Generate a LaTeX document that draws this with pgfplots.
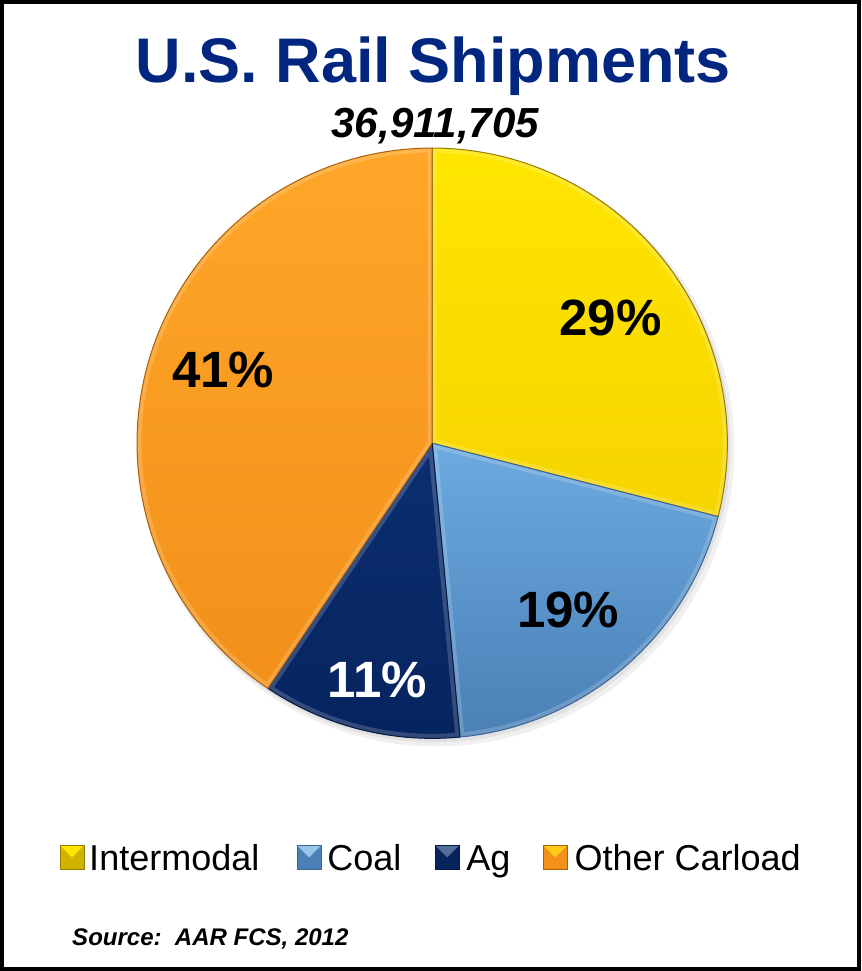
\documentclass[border=0pt]{standalone}
\usepackage{fontspec}
\setmainfont{Liberation Sans}
\usepackage{pgfplots}
\usepackage{pgfplotstable}
\pgfplotsset{compat=1.18}

\definecolor{titleblue}{RGB}{0,38,128}
% slice colours: top / bottom of the shading, edge
\definecolor{yelT}{RGB}{255,230,0}   \definecolor{yelB}{RGB}{246,212,0}   \definecolor{yelE}{RGB}{150,125,0}
\definecolor{coaT}{RGB}{108,170,224} \definecolor{coaB}{RGB}{74,128,182}  \definecolor{coaE}{RGB}{60,100,150}
\definecolor{agT}{RGB}{12,46,112}    \definecolor{agB}{RGB}{6,36,94}      \definecolor{agE}{RGB}{4,24,64}
\definecolor{oraT}{RGB}{255,166,40}  \definecolor{oraB}{RGB}{242,144,26}  \definecolor{oraE}{RGB}{170,95,10}

% share in percent, label, colours, label centre (px, y up)
\pgfplotstableread{
share lab top bot edge txt lx ly
29.0 29 yelT yelB yelE black 610 653
19.5 19 coaT coaB coaE black 568 361
10.9 11 agT  agB  agE  white 377 291
40.6 41 oraT oraB oraE black 223 601
}\pietable

\newcommand{\legsq}[4]{% x, colour top, colour bottom, edge
  \fill[#3] (axis cs:#1,102) rectangle (axis cs:#1+24,126);
  \fill[#2] (axis cs:#1,126) -- (axis cs:#1+24,126) -- (axis cs:#1+12,114) -- cycle;
  \draw[#4, line width=1pt] (axis cs:#1,102) rectangle (axis cs:#1+24,126);
}

\begin{document}
\begin{tikzpicture}
\begin{axis}[
    hide axis,
    scale only axis,
    x=1pt, y=1pt,
    xmin=0, xmax=863, ymin=0, ymax=971,
    clip=false,
  ]
  % soft shadow under the pie
  \fill[black, opacity=0.06] (axis cs:436,523) circle[radius=298pt];
  \fill[black, opacity=0.06] (axis cs:434,525) circle[radius=296pt];
  % pie
  \def\cum{0}
  \pgfplotsforeachungrouped \i in {0,...,3}{%
    \pgfplotstablegetelem{\i}{share}\of\pietable \let\sh\pgfplotsretval
    \pgfplotstablegetelem{\i}{top}\of\pietable \let\tc\pgfplotsretval
    \pgfplotstablegetelem{\i}{bot}\of\pietable \let\bc\pgfplotsretval
    \pgfplotstablegetelem{\i}{edge}\of\pietable \let\ec\pgfplotsretval
    \pgfmathsetmacro\a{90-3.6*\cum}
    \pgfmathsetmacro\b{90-3.6*(\cum+\sh)}
    \pgfmathsetmacro\cum{\cum+\sh}
    \edef\temp{%
      \noexpand\shade[top color=\tc, bottom color=\bc]
        (axis cs:432,528) -- ++(\a:295pt) arc[start angle=\a, end angle=\b, radius=295pt] -- cycle;
      \noexpand\begin{scope}
        \noexpand\clip (axis cs:432,528) -- ++(\a:295pt) arc[start angle=\a, end angle=\b, radius=295pt] -- cycle;
        \noexpand\draw[white, opacity=0.18, line width=9pt, line join=round]
          (axis cs:432,528) -- ++(\a:295pt) arc[start angle=\a, end angle=\b, radius=295pt] -- cycle;
      \noexpand\end{scope}
      \noexpand\draw[\ec, line width=1pt, line join=round]
        (axis cs:432,528) -- ++(\a:295pt) arc[start angle=\a, end angle=\b, radius=295pt] -- cycle;
    }\temp
  }
  % percentage labels
  \pgfplotsforeachungrouped \i in {0,...,3}{%
    \pgfplotstablegetelem{\i}{lab}\of\pietable \let\lb\pgfplotsretval
    \pgfplotstablegetelem{\i}{txt}\of\pietable \let\tx\pgfplotsretval
    \pgfplotstablegetelem{\i}{lx}\of\pietable \let\px\pgfplotsretval
    \pgfplotstablegetelem{\i}{ly}\of\pietable \let\py\pgfplotsretval
    \edef\temp{\noexpand\node[text=\tx, font=\noexpand\fontsize{51}{51}\noexpand\selectfont\noexpand\bfseries]
      at (axis cs:\px,\py) {\lb\noexpand\%};}\temp
  }

  % frame
  \draw[black, line width=4pt] (axis cs:2,2.5) rectangle (axis cs:859,969);

  % title and total
  \node[anchor=base, text=titleblue, font=\fontsize{63}{63}\selectfont\bfseries]
    at (axis cs:433,889) {U.S. Rail Shipments};
  \node[anchor=base, font=\fontsize{42}{42}\selectfont\bfseries\itshape]
    at (axis cs:435,834) {36,911,705};

  % legend
  \legsq{60}{yelT}{yelB!85!black}{yelE}
  \legsq{297}{coaT!70!white}{coaB}{coaE}
  \legsq{435}{agT!70!white}{agB}{agE}
  \legsq{543}{oraT!60!yellow}{oraB}{oraE}
  \begin{scope}[every node/.style={anchor=base west, font=\fontsize{36}{36}\selectfont}]
    \node[inner sep=0pt] at (axis cs:89,101) {Intermodal};
    \node[inner sep=0pt] at (axis cs:327,101) {Coal};
    \node[inner sep=0pt] at (axis cs:466,101) {Ag};
    \node[inner sep=0pt] at (axis cs:574,101) {Other Carload};
  \end{scope}

  % source
  \node[anchor=base west, inner sep=0pt, font=\fontsize{24}{24}\selectfont\bfseries\itshape]
    at (axis cs:72,26) {Source:\ \ AAR FCS, 2012};
\end{axis}
\end{tikzpicture}
\end{document}
